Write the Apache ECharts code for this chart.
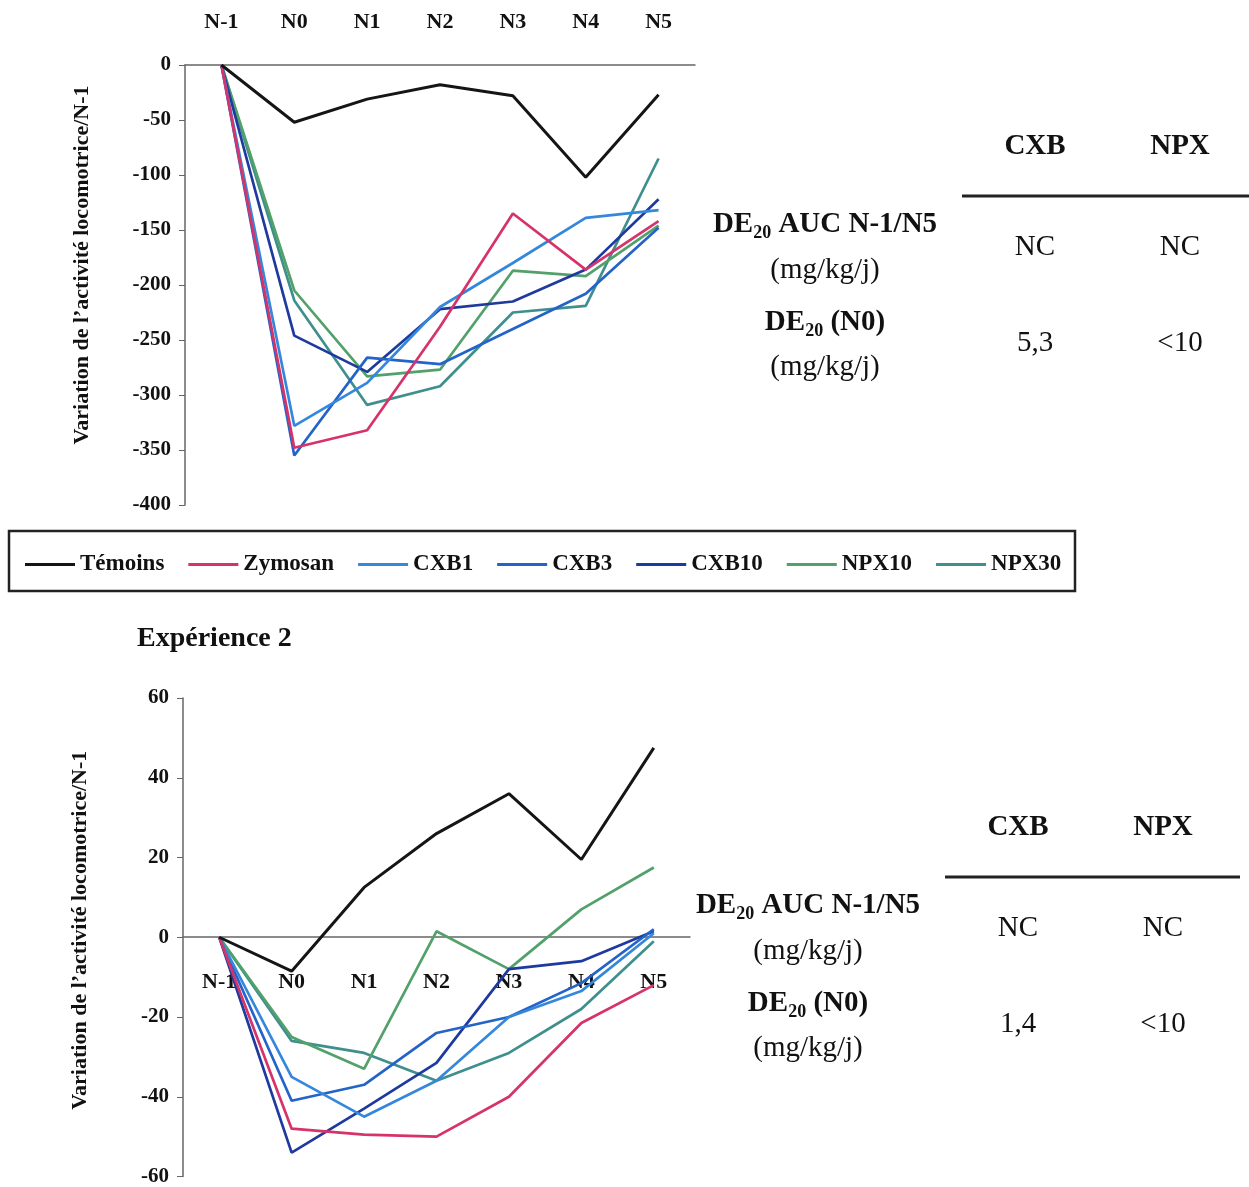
<!DOCTYPE html>
<html>
<head>
<meta charset="utf-8">
<script src="https://cdn.jsdelivr.net/npm/echarts@6/dist/echarts.min.js"></script>
<style>
  html, body { margin: 0; padding: 0; background: #fff; }
  #chart { width: 1249px; height: 1187px; }
</style>
</head>
<body>
<div id="chart"></div>
<script>
const days = ['N-1', 'N0', 'N1', 'N2', 'N3', 'N4', 'N5']
const groups = ['Témoins', 'Zymosan', 'CXB1', 'CXB3', 'CXB10', 'NPX10', 'NPX30']
const colors = ['#151515', '#d6336a', '#3587dc', '#2463c8', '#1f3a9e', '#52a06a', '#3f8f8f']

// Expérience 1
const temoins1 = [0, -52, -31, -18, -28, -102, -27]
const zymosan1 = [0, -348, -332, -238, -135, -186, -142]
const cxb1_1 = [0, -328, -289, -220, -180, -139, -132]
const cxb3_1 = [0, -355, -266, -272, -240, -208, -148]
const cxb10_1 = [0, -246, -279, -222, -215, -186, -122]
const npx10_1 = [0, -205, -283, -277, -187, -192, -146]
const npx30_1 = [0, -214, -309, -292, -225, -219, -85]

// Expérience 2
const temoins2 = [0, -8.5, 12.5, 26, 36, 19.5, 47.5]
const zymosan2 = [0, -48, -49.5, -50, -40, -21.5, -12]
const cxb1_2 = [0, -35, -45, -36, -20, -13.5, 1]
const cxb3_2 = [0, -41, -37, -24, -20, -11.5, 2]
const cxb10_2 = [0, -54, -43, -31.5, -8, -6, 1.5]
const npx10_2 = [0, -25, -33, 1.5, -8, 7, 17.5]
const npx30_2 = [0, -26, -29, -36, -29, -18, -1]

const exp1 = [temoins1, zymosan1, cxb1_1, cxb3_1, cxb10_1, npx10_1, npx30_1]
const exp2 = [temoins2, zymosan2, cxb1_2, cxb3_2, cxb10_2, npx10_2, npx30_2]

// tables
const tableHead = ['CXB', 'NPX']
const table1 = [['NC', 'NC'], ['5,3', '<10']]
const table2 = [['NC', 'NC'], ['1,4', '<10']]

const FONT = '"Liberation Serif", "Times New Roman", serif'
const yName = 'Variation de l’activité locomotrice/N-1'

function makeSeries(data, idx) {
  return data.map((vals, i) => ({
    name: groups[i],
    type: 'line',
    xAxisIndex: idx,
    yAxisIndex: idx,
    data: vals,
    symbol: 'none',
    color: colors[i],
    lineStyle: { width: i === 0 ? 3 : 2.7, color: colors[i] },
    z: 10 - i,
  }))
}

const richLabel = {
  b: { fontFamily: FONT, fontWeight: 'bold', fontSize: 29, lineHeight: 34, color: '#111' },
  s: { fontFamily: FONT, fontWeight: 'bold', fontSize: 18, lineHeight: 18, verticalAlign: 'bottom', color: '#111' },
}

function txt(x, y, text, font, rich) {
  const style = { text, font, fill: '#111', align: 'center', verticalAlign: 'middle' }
  if (rich) style.rich = rich
  return { type: 'text', x, y, style }
}

function table(cfg, vals) {
  const head = 'bold 29px ' + FONT
  const norm = '29px ' + FONT
  return [
    txt(cfg.c1, cfg.top, tableHead[0], head),
    txt(cfg.c2, cfg.top, tableHead[1], head),
    { type: 'line', shape: { x1: cfg.l1, y1: cfg.top + 49, x2: cfg.l2, y2: cfg.top + 49 }, style: { stroke: '#222', lineWidth: 3 } },
    txt(cfg.lx, cfg.top + 78, '{b|DE}{s|20}{b| AUC N-1/N5}', head, richLabel),
    txt(cfg.lx, cfg.top + 123, '(mg/kg/j)', norm),
    txt(cfg.c1, cfg.top + 100, vals[0][0], norm),
    txt(cfg.c2, cfg.top + 100, vals[0][1], norm),
    txt(cfg.lx, cfg.top + 176, '{b|DE}{s|20}{b| (N0)}', head, richLabel),
    txt(cfg.lx, cfg.top + 220, '(mg/kg/j)', norm),
    txt(cfg.c1, cfg.top + 196, vals[1][0], norm),
    txt(cfg.c2, cfg.top + 196, vals[1][1], norm),
  ]
}

const axisLabelStyle = { fontFamily: FONT, fontWeight: 'bold', fontSize: 22, color: '#111' }
const nameStyle = { fontFamily: FONT, fontWeight: 'bold', fontSize: 22, color: '#111' }

const chart = echarts.init(document.getElementById('chart'))
chart.setOption({
  backgroundColor: '#fff',
  animation: false,
  title: {
    text: 'Expérience 2',
    left: 132,
    top: 620,
    textStyle: { fontFamily: FONT, fontWeight: 'bold', fontSize: 28, color: '#111' },
  },
  legend: {
    data: groups,
    left: 20,
    top: 548,
    icon: 'rect',
    itemWidth: 50,
    itemHeight: 3,
    itemGap: 24,
    textStyle: { fontFamily: FONT, fontWeight: 'bold', fontSize: 23, color: '#111' },
  },
  grid: [
    { left: 185, top: 65, width: 510, height: 440 },
    { left: 183, top: 698, width: 507, height: 479 },
  ],
  xAxis: [
    {
      gridIndex: 0,
      type: 'category',
      data: days,
      position: 'top',
      axisLine: { lineStyle: { color: '#666', width: 1.5 } },
      axisTick: { inside: true, length: 6, lineStyle: { color: '#666' } },
      axisLabel: { ...axisLabelStyle, margin: 32 },
    },
    {
      gridIndex: 1,
      type: 'category',
      data: days,
      position: 'bottom',
      offset: -239.5,
      axisLine: { onZero: false, lineStyle: { color: '#666', width: 1.5 } },
      axisTick: { length: 6, lineStyle: { color: '#666' } },
      axisLabel: { ...axisLabelStyle, margin: 34 },
    },
  ],
  yAxis: [
    {
      gridIndex: 0,
      type: 'value',
      min: -400,
      max: 0,
      interval: 50,
      splitLine: { show: false },
      axisLine: { show: true, lineStyle: { color: '#666', width: 1.5 } },
      axisTick: { show: true, length: 6, lineStyle: { color: '#666' } },
      axisLabel: { ...axisLabelStyle, fontSize: 21, margin: 14 },
      name: yName,
      nameLocation: 'middle',
      nameGap: 92,
      nameTextStyle: { ...nameStyle, padding: [0, 0, 0, 40] },
    },
    {
      gridIndex: 1,
      type: 'value',
      min: -60,
      max: 60,
      interval: 20,
      splitLine: { show: false },
      axisLine: { show: true, onZero: false, lineStyle: { color: '#666', width: 1.5 } },
      axisTick: { show: true, length: 6, lineStyle: { color: '#666' } },
      axisLabel: { ...axisLabelStyle, fontSize: 21, margin: 14 },
      name: yName,
      nameLocation: 'middle',
      nameGap: 92,
      nameTextStyle: { ...nameStyle, padding: [0, 0, 0, 14] },
    },
  ],
  graphic: [
    { type: 'rect', shape: { x: 9, y: 531, width: 1066, height: 60 }, style: { fill: 'none', stroke: '#222', lineWidth: 2.5 } },
    ...table({ top: 147, c1: 1035, c2: 1180, lx: 825, l1: 962, l2: 1249 }, table1),
    ...table({ top: 828, c1: 1018, c2: 1163, lx: 808, l1: 945, l2: 1240 }, table2),
  ],
  series: [...makeSeries(exp1, 0), ...makeSeries(exp2, 1)],
})
</script>
</body>
</html>
